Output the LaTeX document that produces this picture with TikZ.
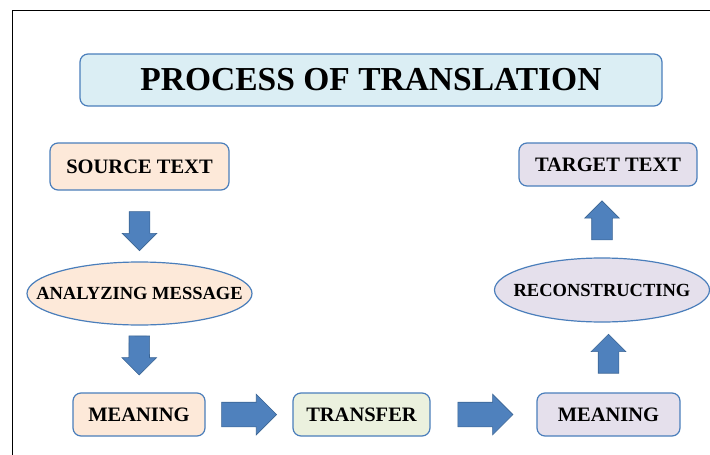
\documentclass[tikz,border=0pt]{standalone}
\usepackage{fontspec}
\setmainfont{Liberation Serif}
\usetikzlibrary{shapes.geometric,shapes.arrows}

\definecolor{edgeblue}{HTML}{4A7EBB}
\definecolor{arrowblue}{HTML}{4F81BD}
\definecolor{arrowedge}{HTML}{3A6494}
\definecolor{titlefill}{HTML}{DBEEF4}
\definecolor{peachfill}{HTML}{FDE9D9}
\definecolor{greenfill}{HTML}{EBF1DE}
\definecolor{lilacfill}{HTML}{E5E0EC}

\tikzset{
  stepbox/.style={draw=edgeblue, line width=1.2pt, rounded corners=8pt, inner sep=0pt,
    font=\bfseries\fontsize{20.5}{24}\selectfont},
  stepoval/.style={draw=edgeblue, line width=1.2pt, ellipse, inner xsep=-30pt, inner ysep=0pt,
    font=\bfseries\fontsize{18.5}{22}\selectfont},
  fatarrow/.style={single arrow, draw=arrowedge, line width=0.6pt, fill=arrowblue,
    inner xsep=0pt, inner ysep=10pt, single arrow head extend=7pt, minimum height=39pt,
    sloped, allow upside down},
  widearrow/.style={fatarrow, inner ysep=12pt, single arrow head extend=8pt, minimum height=55pt}
}

\begin{document}
\begin{tikzpicture}[x=1pt, y=-1pt]
      \useasboundingbox (0,0) rectangle (710,455);
      \draw[black, line width=1.6pt] (12.5,456) -- (12.5,10.5) -- (711,10.5);
      %
      \node[stepbox, fill=titlefill, minimum width=582pt, minimum height=52pt,
        font=\bfseries\fontsize{33.5}{38}\selectfont] (PT) at (371,80) {PROCESS OF TRANSLATION};
      %
      \node[stepbox, fill=peachfill, minimum width=179pt, minimum height=47pt] (ST) at (139.5,166.5) {SOURCE TEXT};
      \node[stepoval, fill=peachfill, minimum width=225pt, minimum height=63pt] (AM) at (139.5,293.5) {ANALYZING MESSAGE};
      \node[stepbox, fill=peachfill, minimum width=132pt, minimum height=43pt] (M1) at (139,414.5) {MEANING};
      \node[stepbox, fill=greenfill, minimum width=137pt, minimum height=43pt] (TR) at (361.5,414.5) {TRANSFER};
      \node[stepbox, fill=lilacfill, minimum width=143pt, minimum height=43pt] (M2) at (608.5,414.5) {MEANING};
      \node[stepoval, fill=lilacfill, minimum width=215pt, minimum height=64pt] (RC) at (602,290) {RECONSTRUCTING};
      \node[stepbox, fill=lilacfill, minimum width=178pt, minimum height=43pt] (TT) at (608,164.5) {TARGET TEXT};
      %
      \path (ST) -- node[fatarrow] (A1) {} (AM);
      \path (AM) -- node[fatarrow, pos=0.37] (A2) {} (M1);
      \path (M1) -- node[widearrow, pos=0.43] (A3) {} (TR);
      \path (TR) -- node[widearrow, pos=0.46] (A4) {} (M2);
      \path (M2.north) -- node[fatarrow, pos=0.48] (A5) {} (M2.north |- RC.south);
      \path (RC.north) -- node[fatarrow, pos=0.45] (A6) {} (RC.north |- TT.south);
    \end{tikzpicture}
\end{document}
